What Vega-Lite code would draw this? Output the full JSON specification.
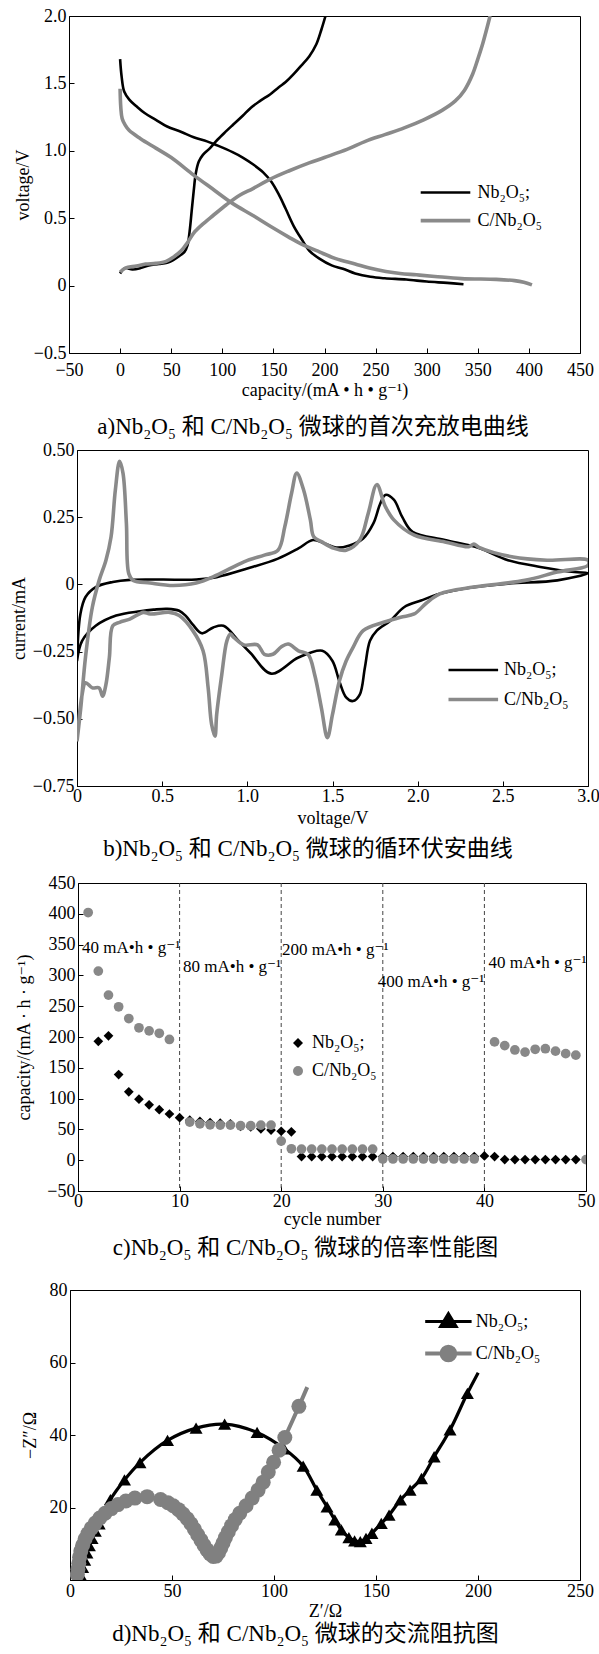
{
"$schema": "https://vega.github.io/schema/vega-lite/v6.json",
"padding": {"left": 0, "top": 6, "right": 0, "bottom": 0},
"spacing": 0,
"resolve": {"scale": {"color": "independent", "shape": "independent", "strokeWidth": "independent"}},
"datasets": {
"dA": [
{"s":"Nb","c":"Nbd","x":0,"y":1.68},{"s":"Nb","c":"Nbd","x":1.5,"y":1.55},{"s":"Nb","c":"Nbd","x":4,"y":1.44},{"s":"Nb","c":"Nbd","x":9,"y":1.38},{"s":"Nb","c":"Nbd","x":16,"y":1.33},{"s":"Nb","c":"Nbd","x":24,"y":1.28},{"s":"Nb","c":"Nbd","x":35,"y":1.23},{"s":"Nb","c":"Nbd","x":46,"y":1.18},{"s":"Nb","c":"Nbd","x":60,"y":1.14},{"s":"Nb","c":"Nbd","x":72,"y":1.1},{"s":"Nb","c":"Nbd","x":85,"y":1.07},{"s":"Nb","c":"Nbd","x":95,"y":1.04},{"s":"Nb","c":"Nbd","x":110,"y":0.99},{"s":"Nb","c":"Nbd","x":120,"y":0.95},{"s":"Nb","c":"Nbd","x":130,"y":0.9},{"s":"Nb","c":"Nbd","x":140,"y":0.84},{"s":"Nb","c":"Nbd","x":148,"y":0.77},{"s":"Nb","c":"Nbd","x":155,"y":0.68},{"s":"Nb","c":"Nbd","x":162,"y":0.57},{"s":"Nb","c":"Nbd","x":170,"y":0.44},{"s":"Nb","c":"Nbd","x":178,"y":0.34},{"s":"Nb","c":"Nbd","x":185,"y":0.26},{"s":"Nb","c":"Nbd","x":195,"y":0.2},{"s":"Nb","c":"Nbd","x":207,"y":0.15},{"s":"Nb","c":"Nbd","x":218,"y":0.125},{"s":"Nb","c":"Nbd","x":230,"y":0.09},{"s":"Nb","c":"Nbd","x":245,"y":0.065},{"s":"Nb","c":"Nbd","x":259,"y":0.054},{"s":"Nb","c":"Nbd","x":280,"y":0.045},{"s":"Nb","c":"Nbd","x":300,"y":0.03},{"s":"Nb","c":"Nbd","x":320,"y":0.02},{"s":"Nb","c":"Nbd","x":336,"y":0.01},
{"s":"Nb","c":"Nbc","x":0,"y":0.09},{"s":"Nb","c":"Nbc","x":3,"y":0.12},{"s":"Nb","c":"Nbc","x":6,"y":0.13},{"s":"Nb","c":"Nbc","x":12,"y":0.12},{"s":"Nb","c":"Nbc","x":20,"y":0.13},{"s":"Nb","c":"Nbc","x":28,"y":0.15},{"s":"Nb","c":"Nbc","x":38,"y":0.16},{"s":"Nb","c":"Nbc","x":46,"y":0.17},{"s":"Nb","c":"Nbc","x":52,"y":0.19},{"s":"Nb","c":"Nbc","x":58,"y":0.22},{"s":"Nb","c":"Nbc","x":63,"y":0.25},{"s":"Nb","c":"Nbc","x":66,"y":0.3},{"s":"Nb","c":"Nbc","x":68,"y":0.4},{"s":"Nb","c":"Nbc","x":70,"y":0.55},{"s":"Nb","c":"Nbc","x":72,"y":0.7},{"s":"Nb","c":"Nbc","x":74,"y":0.83},{"s":"Nb","c":"Nbc","x":77,"y":0.92},{"s":"Nb","c":"Nbc","x":81,"y":0.97},{"s":"Nb","c":"Nbc","x":88,"y":1.02},{"s":"Nb","c":"Nbc","x":95,"y":1.08},{"s":"Nb","c":"Nbc","x":103,"y":1.14},{"s":"Nb","c":"Nbc","x":110,"y":1.19},{"s":"Nb","c":"Nbc","x":120,"y":1.26},{"s":"Nb","c":"Nbc","x":128,"y":1.32},{"s":"Nb","c":"Nbc","x":137,"y":1.37},{"s":"Nb","c":"Nbc","x":147,"y":1.42},{"s":"Nb","c":"Nbc","x":155,"y":1.47},{"s":"Nb","c":"Nbc","x":162,"y":1.51},{"s":"Nb","c":"Nbc","x":170,"y":1.57},{"s":"Nb","c":"Nbc","x":177,"y":1.63},{"s":"Nb","c":"Nbc","x":185,"y":1.7},{"s":"Nb","c":"Nbc","x":192,"y":1.79},{"s":"Nb","c":"Nbc","x":197,"y":1.9},{"s":"Nb","c":"Nbc","x":201,"y":2.0},
{"s":"C","c":"Cd","x":0,"y":1.46},{"s":"C","c":"Cd","x":0.7,"y":1.32},{"s":"C","c":"Cd","x":2,"y":1.24},{"s":"C","c":"Cd","x":5,"y":1.19},{"s":"C","c":"Cd","x":9,"y":1.15},{"s":"C","c":"Cd","x":20,"y":1.09},{"s":"C","c":"Cd","x":35,"y":1.02},{"s":"C","c":"Cd","x":50,"y":0.95},{"s":"C","c":"Cd","x":72,"y":0.82},{"s":"C","c":"Cd","x":90,"y":0.72},{"s":"C","c":"Cd","x":110,"y":0.61},{"s":"C","c":"Cd","x":130,"y":0.52},{"s":"C","c":"Cd","x":147,"y":0.44},{"s":"C","c":"Cd","x":165,"y":0.36},{"s":"C","c":"Cd","x":177,"y":0.31},{"s":"C","c":"Cd","x":195,"y":0.25},{"s":"C","c":"Cd","x":211,"y":0.2},{"s":"C","c":"Cd","x":230,"y":0.16},{"s":"C","c":"Cd","x":244,"y":0.13},{"s":"C","c":"Cd","x":260,"y":0.105},{"s":"C","c":"Cd","x":274,"y":0.09},{"s":"C","c":"Cd","x":290,"y":0.08},{"s":"C","c":"Cd","x":308,"y":0.068},{"s":"C","c":"Cd","x":334,"y":0.052},{"s":"C","c":"Cd","x":368,"y":0.046},{"s":"C","c":"Cd","x":386,"y":0.037},{"s":"C","c":"Cd","x":395,"y":0.025},{"s":"C","c":"Cd","x":403,"y":0.005},
{"s":"C","c":"Cc","x":0,"y":0.1},{"s":"C","c":"Cc","x":5,"y":0.13},{"s":"C","c":"Cc","x":16,"y":0.145},{"s":"C","c":"Cc","x":25,"y":0.16},{"s":"C","c":"Cc","x":35,"y":0.165},{"s":"C","c":"Cc","x":45,"y":0.18},{"s":"C","c":"Cc","x":52,"y":0.21},{"s":"C","c":"Cc","x":60,"y":0.26},{"s":"C","c":"Cc","x":66,"y":0.32},{"s":"C","c":"Cc","x":72,"y":0.39},{"s":"C","c":"Cc","x":80,"y":0.45},{"s":"C","c":"Cc","x":91,"y":0.52},{"s":"C","c":"Cc","x":104,"y":0.6},{"s":"C","c":"Cc","x":117,"y":0.67},{"s":"C","c":"Cc","x":130,"y":0.72},{"s":"C","c":"Cc","x":147,"y":0.79},{"s":"C","c":"Cc","x":165,"y":0.85},{"s":"C","c":"Cc","x":185,"y":0.91},{"s":"C","c":"Cc","x":200,"y":0.95},{"s":"C","c":"Cc","x":222,"y":1.01},{"s":"C","c":"Cc","x":240,"y":1.07},{"s":"C","c":"Cc","x":259,"y":1.12},{"s":"C","c":"Cc","x":278,"y":1.17},{"s":"C","c":"Cc","x":297,"y":1.23},{"s":"C","c":"Cc","x":315,"y":1.3},{"s":"C","c":"Cc","x":328,"y":1.37},{"s":"C","c":"Cc","x":337,"y":1.45},{"s":"C","c":"Cc","x":345,"y":1.57},{"s":"C","c":"Cc","x":350,"y":1.68},{"s":"C","c":"Cc","x":355,"y":1.8},{"s":"C","c":"Cc","x":362,"y":2.0}
],
"dB": [
{"s":"Nb","x":0,"y":-0.285},{"s":"Nb","x":0.02,"y":-0.11},{"s":"Nb","x":0.05,"y":-0.047},{"s":"Nb","x":0.11,"y":-0.01},{"s":"Nb","x":0.21,"y":0.009},{"s":"Nb","x":0.31,"y":0.017},{"s":"Nb","x":0.5,"y":0.018},{"s":"Nb","x":0.7,"y":0.018},{"s":"Nb","x":0.82,"y":0.027},{"s":"Nb","x":1.0,"y":0.059},{"s":"Nb","x":1.18,"y":0.096},{"s":"Nb","x":1.3,"y":0.134},{"s":"Nb","x":1.385,"y":0.165},{"s":"Nb","x":1.455,"y":0.152},{"s":"Nb","x":1.52,"y":0.137},{"s":"Nb","x":1.6,"y":0.145},{"s":"Nb","x":1.68,"y":0.171},{"s":"Nb","x":1.74,"y":0.227},{"s":"Nb","x":1.78,"y":0.3},{"s":"Nb","x":1.81,"y":0.333},{"s":"Nb","x":1.86,"y":0.315},{"s":"Nb","x":1.91,"y":0.25},{"s":"Nb","x":1.97,"y":0.196},{"s":"Nb","x":2.16,"y":0.165},{"s":"Nb","x":2.36,"y":0.135},{"s":"Nb","x":2.53,"y":0.09},{"s":"Nb","x":2.72,"y":0.065},{"s":"Nb","x":2.92,"y":0.046},{"s":"Nb","x":3.0,"y":0.042},
{"s":"Nb","x":2.82,"y":0.015},{"s":"Nb","x":2.53,"y":0.003},{"s":"Nb","x":2.27,"y":-0.016},{"s":"Nb","x":2.13,"y":-0.035},{"s":"Nb","x":2.02,"y":-0.06},{"s":"Nb","x":1.92,"y":-0.085},{"s":"Nb","x":1.84,"y":-0.135},{"s":"Nb","x":1.76,"y":-0.172},{"s":"Nb","x":1.72,"y":-0.21},{"s":"Nb","x":1.69,"y":-0.31},{"s":"Nb","x":1.66,"y":-0.41},{"s":"Nb","x":1.62,"y":-0.434},{"s":"Nb","x":1.58,"y":-0.42},{"s":"Nb","x":1.54,"y":-0.36},{"s":"Nb","x":1.5,"y":-0.285},{"s":"Nb","x":1.44,"y":-0.247},{"s":"Nb","x":1.3,"y":-0.272},{"s":"Nb","x":1.14,"y":-0.332},{"s":"Nb","x":1.02,"y":-0.256},{"s":"Nb","x":0.95,"y":-0.211},{"s":"Nb","x":0.86,"y":-0.154},{"s":"Nb","x":0.8,"y":-0.16},{"s":"Nb","x":0.733,"y":-0.182},{"s":"Nb","x":0.68,"y":-0.15},{"s":"Nb","x":0.64,"y":-0.118},{"s":"Nb","x":0.6,"y":-0.098},{"s":"Nb","x":0.53,"y":-0.091},{"s":"Nb","x":0.45,"y":-0.094},{"s":"Nb","x":0.37,"y":-0.1},{"s":"Nb","x":0.23,"y":-0.116},{"s":"Nb","x":0.11,"y":-0.154},{"s":"Nb","x":0.03,"y":-0.21},{"s":"Nb","x":0.0,"y":-0.285},
{"s":"C","x":0,"y":-0.584},{"s":"C","x":0.022,"y":-0.46},{"s":"C","x":0.05,"y":-0.27},{"s":"C","x":0.09,"y":-0.085},{"s":"C","x":0.13,"y":0.015},{"s":"C","x":0.17,"y":0.09},{"s":"C","x":0.2,"y":0.177},{"s":"C","x":0.225,"y":0.35},{"s":"C","x":0.25,"y":0.458},{"s":"C","x":0.27,"y":0.414},{"s":"C","x":0.29,"y":0.227},{"s":"C","x":0.304,"y":0.04},{"s":"C","x":0.33,"y":0.015},{"s":"C","x":0.43,"y":0.005},{"s":"C","x":0.565,"y":-0.004},{"s":"C","x":0.7,"y":0.005},{"s":"C","x":0.82,"y":0.034},{"s":"C","x":0.98,"y":0.084},{"s":"C","x":1.1,"y":0.109},{"s":"C","x":1.18,"y":0.127},{"s":"C","x":1.22,"y":0.215},{"s":"C","x":1.26,"y":0.34},{"s":"C","x":1.29,"y":0.414},{"s":"C","x":1.33,"y":0.352},{"s":"C","x":1.37,"y":0.24},{"s":"C","x":1.39,"y":0.177},{"s":"C","x":1.435,"y":0.159},{"s":"C","x":1.51,"y":0.134},{"s":"C","x":1.58,"y":0.127},{"s":"C","x":1.66,"y":0.165},{"s":"C","x":1.71,"y":0.265},{"s":"C","x":1.76,"y":0.371},{"s":"C","x":1.81,"y":0.29},{"s":"C","x":1.86,"y":0.24},{"s":"C","x":1.98,"y":0.183},{"s":"C","x":2.16,"y":0.158},{"s":"C","x":2.3,"y":0.14},{"s":"C","x":2.33,"y":0.15},{"s":"C","x":2.36,"y":0.138},{"s":"C","x":2.56,"y":0.102},{"s":"C","x":2.76,"y":0.09},{"s":"C","x":3.0,"y":0.09},
{"s":"C","x":3.0,"y":0.071},{"s":"C","x":2.82,"y":0.046},{"s":"C","x":2.63,"y":0.015},{"s":"C","x":2.33,"y":-0.01},{"s":"C","x":2.13,"y":-0.035},{"s":"C","x":2.05,"y":-0.07},{"s":"C","x":1.98,"y":-0.11},{"s":"C","x":1.9,"y":-0.122},{"s":"C","x":1.8,"y":-0.141},{"s":"C","x":1.68,"y":-0.172},{"s":"C","x":1.62,"y":-0.235},{"s":"C","x":1.58,"y":-0.285},{"s":"C","x":1.54,"y":-0.36},{"s":"C","x":1.5,"y":-0.484},{"s":"C","x":1.47,"y":-0.57},{"s":"C","x":1.435,"y":-0.46},{"s":"C","x":1.395,"y":-0.335},{"s":"C","x":1.356,"y":-0.26},{"s":"C","x":1.3,"y":-0.247},{"s":"C","x":1.24,"y":-0.222},{"s":"C","x":1.2,"y":-0.232},{"s":"C","x":1.15,"y":-0.26},{"s":"C","x":1.1,"y":-0.26},{"s":"C","x":1.06,"y":-0.225},{"s":"C","x":0.98,"y":-0.225},{"s":"C","x":0.92,"y":-0.197},{"s":"C","x":0.9,"y":-0.185},{"s":"C","x":0.88,"y":-0.21},{"s":"C","x":0.85,"y":-0.335},{"s":"C","x":0.82,"y":-0.484},{"s":"C","x":0.81,"y":-0.565},{"s":"C","x":0.79,"y":-0.52},{"s":"C","x":0.77,"y":-0.385},{"s":"C","x":0.74,"y":-0.247},{"s":"C","x":0.68,"y":-0.172},{"s":"C","x":0.6,"y":-0.116},{"s":"C","x":0.545,"y":-0.104},{"s":"C","x":0.43,"y":-0.11},{"s":"C","x":0.39,"y":-0.104},{"s":"C","x":0.31,"y":-0.129},{"s":"C","x":0.25,"y":-0.141},{"s":"C","x":0.21,"y":-0.154},{"s":"C","x":0.19,"y":-0.272},{"s":"C","x":0.17,"y":-0.372},{"s":"C","x":0.15,"y":-0.416},{"s":"C","x":0.13,"y":-0.385},{"s":"C","x":0.09,"y":-0.385},{"s":"C","x":0.05,"y":-0.366},{"s":"C","x":0.03,"y":-0.41},{"s":"C","x":0,"y":-0.584}
],
"dC": [
{"s":"Nb","x":2,"y":193},{"s":"Nb","x":3,"y":202},{"s":"Nb","x":4,"y":139},{"s":"Nb","x":5,"y":111},{"s":"Nb","x":6,"y":99},{"s":"Nb","x":7,"y":90},{"s":"Nb","x":8,"y":82},{"s":"Nb","x":9,"y":75},{"s":"Nb","x":10,"y":69},{"s":"Nb","x":11,"y":65},{"s":"Nb","x":12,"y":63},{"s":"Nb","x":13,"y":61},{"s":"Nb","x":14,"y":60},{"s":"Nb","x":15,"y":59},{"s":"Nb","x":16,"y":55},{"s":"Nb","x":17,"y":54},{"s":"Nb","x":18,"y":51},{"s":"Nb","x":19,"y":49},{"s":"Nb","x":20,"y":47},{"s":"Nb","x":21,"y":46},{"s":"Nb","x":22,"y":6},{"s":"Nb","x":23,"y":6},{"s":"Nb","x":24,"y":6},{"s":"Nb","x":25,"y":6},{"s":"Nb","x":26,"y":6},{"s":"Nb","x":27,"y":6},{"s":"Nb","x":28,"y":6},{"s":"Nb","x":29,"y":6},{"s":"Nb","x":30,"y":6},{"s":"Nb","x":31,"y":6},{"s":"Nb","x":32,"y":6},{"s":"Nb","x":33,"y":6},{"s":"Nb","x":34,"y":6},{"s":"Nb","x":35,"y":6},{"s":"Nb","x":36,"y":6},{"s":"Nb","x":37,"y":6},{"s":"Nb","x":38,"y":6},{"s":"Nb","x":39,"y":6},{"s":"Nb","x":40,"y":7},{"s":"Nb","x":41,"y":6},{"s":"Nb","x":42,"y":1},{"s":"Nb","x":43,"y":1},{"s":"Nb","x":44,"y":1},{"s":"Nb","x":45,"y":1},{"s":"Nb","x":46,"y":1},{"s":"Nb","x":47,"y":1},{"s":"Nb","x":48,"y":1},{"s":"Nb","x":49,"y":1},
{"s":"C","x":1,"y":402},{"s":"C","x":2,"y":307},{"s":"C","x":3,"y":268},{"s":"C","x":4,"y":249},{"s":"C","x":5,"y":230},{"s":"C","x":6,"y":215},{"s":"C","x":7,"y":210},{"s":"C","x":8,"y":206},{"s":"C","x":9,"y":196},{"s":"C","x":11,"y":62},{"s":"C","x":12,"y":59},{"s":"C","x":13,"y":57.5},{"s":"C","x":14,"y":57},{"s":"C","x":15,"y":57},{"s":"C","x":16,"y":56},{"s":"C","x":17,"y":56},{"s":"C","x":18,"y":57},{"s":"C","x":19,"y":57},{"s":"C","x":20,"y":31},{"s":"C","x":21,"y":18.5},{"s":"C","x":22,"y":18},{"s":"C","x":23,"y":18},{"s":"C","x":24,"y":18},{"s":"C","x":25,"y":18},{"s":"C","x":26,"y":18},{"s":"C","x":27,"y":18},{"s":"C","x":28,"y":18},{"s":"C","x":29,"y":18},{"s":"C","x":30,"y":2},{"s":"C","x":31,"y":2},{"s":"C","x":32,"y":2},{"s":"C","x":33,"y":2},{"s":"C","x":34,"y":2},{"s":"C","x":35,"y":2},{"s":"C","x":36,"y":2},{"s":"C","x":37,"y":2},{"s":"C","x":38,"y":2},{"s":"C","x":39,"y":2},{"s":"C","x":41,"y":192},{"s":"C","x":42,"y":186},{"s":"C","x":43,"y":179},{"s":"C","x":44,"y":175.5},{"s":"C","x":45,"y":180},{"s":"C","x":46,"y":181},{"s":"C","x":47,"y":177},{"s":"C","x":48,"y":173},{"s":"C","x":49,"y":170.5},{"s":"C","x":50,"y":1}
],
"dCr": [{"x":10},{"x":20},{"x":30},{"x":40}],
"dCt": [
{"x":0.4,"y":344,"t":"40 mA•h • g⁻¹"},{"x":10.33,"y":314,"t":"80 mA•h • g⁻¹"},{"x":20.07,"y":341,"t":"200 mA•h • g⁻¹"},{"x":29.5,"y":288.5,"t":"400 mA•h • g⁻¹"},{"x":40.4,"y":320,"t":"40 mA•h • g⁻¹"}
],
"dDl": [
{"s":"Nb","x":4.3,"y":0.8},{"s":"Nb","x":5,"y":1.5},{"s":"Nb","x":6.2,"y":3.5},{"s":"Nb","x":7.2,"y":5.5},{"s":"Nb","x":8.3,"y":7.5},{"s":"Nb","x":9.5,"y":9.5},{"s":"Nb","x":10.8,"y":11.5},{"s":"Nb","x":12.4,"y":13.5},{"s":"Nb","x":14.3,"y":15.5},{"s":"Nb","x":16.5,"y":18.5},{"s":"Nb","x":19.8,"y":22.2},{"s":"Nb","x":26.7,"y":27.6},{"s":"Nb","x":34.3,"y":32.4},{"s":"Nb","x":47.8,"y":38.5},{"s":"Nb","x":61.8,"y":41.9},{"s":"Nb","x":75.8,"y":43},{"s":"Nb","x":91.7,"y":40.7},{"s":"Nb","x":105,"y":36.2},{"s":"Nb","x":114.3,"y":31.4},{"s":"Nb","x":121,"y":24.8},{"s":"Nb","x":126,"y":20.2},{"s":"Nb","x":129.8,"y":16.6},{"s":"Nb","x":133,"y":13.8},{"s":"Nb","x":136.7,"y":11.7},{"s":"Nb","x":139.5,"y":10.8},{"s":"Nb","x":142.3,"y":10.6},{"s":"Nb","x":145.1,"y":11.5},{"s":"Nb","x":148,"y":12.9},{"s":"Nb","x":152.6,"y":15.6},{"s":"Nb","x":156.4,"y":17.9},{"s":"Nb","x":162,"y":22.1},{"s":"Nb","x":166.7,"y":24.8},{"s":"Nb","x":172.3,"y":28},{"s":"Nb","x":178.5,"y":34},{"s":"Nb","x":186.3,"y":41.4},{"s":"Nb","x":194.8,"y":51.5},{"s":"Nb","x":200.1,"y":57.2},
{"s":"C","x":3.5,"y":0.5},{"s":"C","x":3.6,"y":1.5},{"s":"C","x":3.9,"y":3},{"s":"C","x":4.3,"y":4.6},{"s":"C","x":4.7,"y":6.3},{"s":"C","x":5.3,"y":8},{"s":"C","x":6.2,"y":9.6},{"s":"C","x":7.4,"y":11.3},{"s":"C","x":8.8,"y":12.8},{"s":"C","x":10.5,"y":14.3},{"s":"C","x":12.4,"y":15.7},{"s":"C","x":14.6,"y":17.1},{"s":"C","x":17.2,"y":18.4},{"s":"C","x":20.3,"y":19.7},{"s":"C","x":23.5,"y":20.8},{"s":"C","x":27.4,"y":21.8},{"s":"C","x":31.8,"y":22.6},{"s":"C","x":37.8,"y":23},{"s":"C","x":44.4,"y":22.2},{"s":"C","x":48,"y":21.3},{"s":"C","x":50.6,"y":20.5},{"s":"C","x":53.2,"y":19.4},{"s":"C","x":55.4,"y":18.2},{"s":"C","x":57.5,"y":16.9},{"s":"C","x":59.3,"y":15.5},{"s":"C","x":61,"y":14},{"s":"C","x":62.6,"y":12.5},{"s":"C","x":64.2,"y":11},{"s":"C","x":65.7,"y":9.6},{"s":"C","x":67.2,"y":8.3},{"s":"C","x":68.7,"y":7.2},{"s":"C","x":70.2,"y":6.5},{"s":"C","x":71.6,"y":6.6},{"s":"C","x":72.8,"y":7.5},{"s":"C","x":73.9,"y":8.8},{"s":"C","x":75,"y":10.2},{"s":"C","x":76.2,"y":11.7},{"s":"C","x":77.6,"y":13.3},{"s":"C","x":79.2,"y":15},{"s":"C","x":81,"y":16.7},{"s":"C","x":83.2,"y":18.4},{"s":"C","x":86.3,"y":20.5},{"s":"C","x":89.3,"y":22.6},{"s":"C","x":92.2,"y":24.8},{"s":"C","x":94.7,"y":27},{"s":"C","x":97.2,"y":29.8},{"s":"C","x":99.8,"y":32.5},{"s":"C","x":102.5,"y":35.8},{"s":"C","x":105.3,"y":39.3},{"s":"C","x":112.2,"y":47.9},{"s":"C","x":116.3,"y":53.2}
],
"dDp": [
{"s":"Nb","x":5,"y":1.5},{"s":"Nb","x":6.2,"y":3.5},{"s":"Nb","x":7.2,"y":5.5},{"s":"Nb","x":8.3,"y":7.5},{"s":"Nb","x":9.5,"y":9.5},{"s":"Nb","x":10.8,"y":11.5},{"s":"Nb","x":12.4,"y":13.5},{"s":"Nb","x":14.3,"y":15.5},{"s":"Nb","x":16.5,"y":18.5},{"s":"Nb","x":19.8,"y":22.2},{"s":"Nb","x":26.7,"y":27.6},{"s":"Nb","x":34.3,"y":32.4},{"s":"Nb","x":47.8,"y":38.5},{"s":"Nb","x":61.8,"y":41.9},{"s":"Nb","x":75.8,"y":43},{"s":"Nb","x":91.7,"y":40.7},{"s":"Nb","x":105,"y":36.2},{"s":"Nb","x":114.3,"y":31.4},{"s":"Nb","x":121,"y":24.8},{"s":"Nb","x":126,"y":20.2},{"s":"Nb","x":129.8,"y":16.6},{"s":"Nb","x":133,"y":13.8},{"s":"Nb","x":136.7,"y":11.7},{"s":"Nb","x":139.5,"y":10.8},{"s":"Nb","x":142.3,"y":10.6},{"s":"Nb","x":145.1,"y":11.5},{"s":"Nb","x":148,"y":12.9},{"s":"Nb","x":152.6,"y":15.6},{"s":"Nb","x":156.4,"y":17.9},{"s":"Nb","x":162,"y":22.1},{"s":"Nb","x":166.7,"y":24.8},{"s":"Nb","x":172.3,"y":28},{"s":"Nb","x":178.5,"y":34},{"s":"Nb","x":186.3,"y":41.4},{"s":"Nb","x":194.8,"y":51.5},
{"s":"C","x":3.6,"y":1.5},{"s":"C","x":3.9,"y":3},{"s":"C","x":4.3,"y":4.6},{"s":"C","x":4.7,"y":6.3},{"s":"C","x":5.3,"y":8},{"s":"C","x":6.2,"y":9.6},{"s":"C","x":7.4,"y":11.3},{"s":"C","x":8.8,"y":12.8},{"s":"C","x":10.5,"y":14.3},{"s":"C","x":12.4,"y":15.7},{"s":"C","x":14.6,"y":17.1},{"s":"C","x":17.2,"y":18.4},{"s":"C","x":20.3,"y":19.7},{"s":"C","x":23.5,"y":20.8},{"s":"C","x":27.4,"y":21.8},{"s":"C","x":31.8,"y":22.6},{"s":"C","x":37.8,"y":23},{"s":"C","x":44.4,"y":22.2},{"s":"C","x":48,"y":21.3},{"s":"C","x":50.6,"y":20.5},{"s":"C","x":53.2,"y":19.4},{"s":"C","x":55.4,"y":18.2},{"s":"C","x":57.5,"y":16.9},{"s":"C","x":59.3,"y":15.5},{"s":"C","x":61,"y":14},{"s":"C","x":62.6,"y":12.5},{"s":"C","x":64.2,"y":11},{"s":"C","x":65.7,"y":9.6},{"s":"C","x":67.2,"y":8.3},{"s":"C","x":68.7,"y":7.2},{"s":"C","x":70.2,"y":6.5},{"s":"C","x":71.6,"y":6.6},{"s":"C","x":72.8,"y":7.5},{"s":"C","x":73.9,"y":8.8},{"s":"C","x":75,"y":10.2},{"s":"C","x":76.2,"y":11.7},{"s":"C","x":77.6,"y":13.3},{"s":"C","x":79.2,"y":15},{"s":"C","x":81,"y":16.7},{"s":"C","x":83.2,"y":18.4},{"s":"C","x":86.3,"y":20.5},{"s":"C","x":89.3,"y":22.6},{"s":"C","x":92.2,"y":24.8},{"s":"C","x":94.7,"y":27},{"s":"C","x":97.2,"y":29.8},{"s":"C","x":99.8,"y":32.5},{"s":"C","x":102.5,"y":35.8},{"s":"C","x":105.3,"y":39.3},{"s":"C","x":112.2,"y":47.9}
]
},
"vconcat": [
{
"spacing": 0,
"resolve": {"scale": {"color": "independent", "shape": "independent", "strokeWidth": "independent"}},
"hconcat": [
{"width": 12, "height": 1, "data": {"values": []}, "mark": "point", "view": {"stroke": "transparent"}},
{
"width": 511, "height": 337,
"data": {"name": "dA"},
"mark": {"type": "line", "interpolate": "catmull-rom", "clip": true},
"encoding": {
"x": {"field": "x", "type": "quantitative", "scale": {"domain": [-50, 450], "nice": false, "zero": false}, "axis": {"values": [-50,0,50,100,150,200,250,300,350,400,450], "format": "d", "title": "capacity/(mA • h • g⁻¹)", "labelPadding": 13, "titlePadding": 2}},
"y": {"field": "y", "type": "quantitative", "scale": {"domain": [-0.5, 2], "nice": false, "zero": false}, "axis": {"values": [-0.5,0,0.5,1,1.5,2], "labelExpr": "datum.value == 0 ? '0' : format(datum.value, '.1f')", "title": "voltage/V", "titlePadding": 0.5}},
"color": {"field": "s", "type": "nominal", "scale": {"domain": ["Nb","C"], "range": ["#000000","#8a8a8a"]}, "legend": {"orient": "none", "legendX": 366.5, "legendY": 167, "title": null, "symbolType": "M-3.1,0H3.1", "symbolSize": 256, "symbolStrokeWidth": 3, "labelOffset": 22, "rowPadding": 8.6, "labelExpr": "datum.value == 'Nb' ? 'Nb₂O₅;' : 'C/Nb₂O₅'", "encode": {"symbols": {"update": {"strokeWidth": {"signal": "datum.value == 'Nb' ? 3 : 4"}}}}}},
"strokeWidth": {"field": "s", "type": "ordinal", "scale": {"domain": ["Nb","C"], "range": [2.6, 3.6]}, "legend": null},
"detail": {"field": "c", "type": "nominal"}
},
"title": {"text": "a)Nb₂O₅ 和 C/Nb₂O₅ 微球的首次充放电曲线", "dx": -11.5, "offset": 17}
}
]
},
{
"spacing": 0,
"resolve": {"scale": {"color": "independent", "shape": "independent", "strokeWidth": "independent"}},
"hconcat": [
{"width": 8, "height": 1, "data": {"values": []}, "mark": "point", "view": {"stroke": "transparent"}},
{
"width": 511, "height": 336,
"data": {"name": "dB"},
"mark": {"type": "line", "interpolate": "catmull-rom", "clip": true},
"encoding": {
"x": {"field": "x", "type": "quantitative", "scale": {"domain": [0, 3], "nice": false, "zero": false}, "axis": {"values": [0,0.5,1,1.5,2,2.5,3], "labelExpr": "datum.value == 0 ? '0' : format(datum.value, '.1f')", "title": "voltage/V", "labelPadding": 6, "titlePadding": 4}},
"y": {"field": "y", "type": "quantitative", "scale": {"domain": [-0.75, 0.5], "nice": false, "zero": false}, "axis": {"values": [-0.75,-0.5,-0.25,0,0.25,0.5], "labelExpr": "datum.value == 0 ? '0' : format(datum.value, '.2f')", "title": "current/mA", "titlePadding": 3.4}},
"color": {"field": "s", "type": "nominal", "scale": {"domain": ["Nb","C"], "range": ["#000000","#8a8a8a"]}, "legend": {"orient": "none", "legendX": 386.3, "legendY": 210.5, "title": null, "symbolType": "M-3.1,0H3.1", "symbolSize": 256, "symbolStrokeWidth": 3, "labelOffset": 20.7, "rowPadding": 10, "labelExpr": "datum.value == 'Nb' ? 'Nb₂O₅;' : 'C/Nb₂O₅'", "encode": {"symbols": {"update": {"strokeWidth": {"signal": "datum.value == 'Nb' ? 3 : 4"}}}}}},
"strokeWidth": {"field": "s", "type": "ordinal", "scale": {"domain": ["Nb","C"], "range": [2.6, 3.6]}, "legend": null},
"order": {"value": null}
},
"title": {"text": "b)Nb₂O₅ 和 C/Nb₂O₅ 微球的循环伏安曲线", "dx": -24.5, "offset": 10.5, "subtitle": " ", "subtitleFontSize": 10, "subtitlePadding": 2}
}
]
},
{
"spacing": 0,
"resolve": {"scale": {"color": "independent", "shape": "independent", "strokeWidth": "independent"}},
"hconcat": [
{"width": 12, "height": 1, "data": {"values": []}, "mark": "point", "view": {"stroke": "transparent"}},
{
"width": 508, "height": 308,
"encoding": {
"x": {"field": "x", "type": "quantitative", "scale": {"domain": [0, 50], "nice": false, "zero": false}, "axis": {"values": [0,10,20,30,40,50], "format": "d", "title": "cycle number", "labelPadding": 6.5, "titlePadding": 0}},
"y": {"field": "y", "type": "quantitative", "scale": {"domain": [-50, 450], "nice": false, "zero": false}, "axis": {"values": [-50,0,50,100,150,200,250,300,350,400,450], "format": "d", "title": "capacity/(mA · h · g⁻¹)", "titlePadding": 13.8}}
},
"layer": [
{"data": {"name": "dCr"}, "mark": {"type": "rule", "color": "#444444", "strokeWidth": 1, "strokeDash": [4, 3]}, "encoding": {"y": null}},
{"data": {"name": "dC"}, "mark": {"type": "point", "filled": true, "opacity": 1, "size": 95, "clip": true, "strokeWidth": 0},
"encoding": {
"color": {"field": "s", "type": "nominal", "scale": {"domain": ["Nb","C"], "range": ["#000000","#888888"]}, "legend": {"orient": "none", "legendX": 211, "legendY": 151, "title": null, "symbolSize": 100, "labelOffset": 5, "rowPadding": 10, "labelExpr": "datum.value == 'Nb' ? 'Nb₂O₅;' : 'C/Nb₂O₅'"}},
"shape": {"field": "s", "type": "nominal", "scale": {"domain": ["Nb","C"], "range": ["diamond","circle"]}, "legend": {"orient": "none", "legendX": 211, "legendY": 151, "title": null, "symbolSize": 100, "labelOffset": 5, "rowPadding": 10, "labelExpr": "datum.value == 'Nb' ? 'Nb₂O₅;' : 'C/Nb₂O₅'"}}
}},
{"data": {"name": "dCt"}, "mark": {"type": "text", "align": "left", "baseline": "middle", "fontSize": 17, "font": "'Liberation Serif', 'DejaVu Serif', 'Noto Sans CJK SC'", "color": "#000000"}, "encoding": {"text": {"field": "t"}}}
],
"title": {"text": "c)Nb₂O₅ 和 C/Nb₂O₅ 微球的倍率性能图", "dx": -26.5, "offset": 8.5, "subtitle": " ", "subtitleFontSize": 10, "subtitlePadding": 9.5}
}
]
},
{
"spacing": 0,
"resolve": {"scale": {"color": "independent", "shape": "independent", "strokeWidth": "independent"}},
"hconcat": [
{"width": 18, "height": 1, "data": {"values": []}, "mark": "point", "view": {"stroke": "transparent"}},
{
"width": 510, "height": 290,
"encoding": {
"x": {"field": "x", "type": "quantitative", "scale": {"domain": [0, 250], "nice": false, "zero": false}, "axis": {"values": [0,50,100,150,200,250], "format": "d", "title": "Z′/Ω", "labelPadding": 7, "titlePadding": 2}},
"y": {"field": "y", "type": "quantitative", "scale": {"domain": [0, 80], "nice": false, "zero": false}, "axis": {"values": [20,40,60,80], "format": "d", "title": "−Z″/Ω", "titlePadding": 10}}
},
"layer": [
{"data": {"name": "dDl"}, "mark": {"type": "line", "interpolate": "catmull-rom", "clip": true},
"encoding": {
"color": {"field": "s", "type": "nominal", "scale": {"domain": ["Nb","C"], "range": ["#000000","#808080"]}, "legend": {"orient": "none", "legendX": 368.4, "legendY": 21.5, "title": null, "symbolType": "M-2.9,0H2.9", "symbolSize": 256, "symbolStrokeWidth": 3, "labelOffset": 17.3, "rowPadding": 5, "labelExpr": "datum.value == 'Nb' ? 'Nb₂O₅;' : 'C/Nb₂O₅'",
"encode": {"symbols": {"update": {
"shape": {"signal": "datum.value == 'C' ? 'M-2.9,0H2.9M0.85,0A0.85,0.85,0,1,1,-0.85,0A0.85,0.85,0,1,1,0.85,0Z' : 'M-2.9,0H2.9M0,-0.95L0.95,0.62L-0.95,0.62Z'"},
"fill": {"signal": "datum.value == 'C' ? '#808080' : '#000000'"},
"stroke": {"signal": "datum.value == 'C' ? '#808080' : '#000000'"},
"strokeWidth": {"signal": "datum.value == 'C' ? 4 : 3"},
"opacity": {"value": 1}
}}}}},
"strokeWidth": {"field": "s", "type": "ordinal", "scale": {"domain": ["Nb","C"], "range": [3.2, 4]}, "legend": null},
"order": {"value": null}
}},
{"data": {"name": "dDp"}, "transform": [{"filter": "datum.s == 'Nb'"}], "mark": {"type": "point", "shape": "triangle-up", "filled": true, "opacity": 1, "size": 170, "color": "#000000", "clip": true}},
{"data": {"name": "dDp"}, "transform": [{"filter": "datum.s == 'C'"}], "mark": {"type": "point", "shape": "circle", "filled": true, "opacity": 1, "size": 225, "color": "#808080", "clip": true}}
],
"title": {"text": "d)Nb₂O₅ 和 C/Nb₂O₅ 微球的交流阻抗图", "dx": -19.5, "offset": 3}
}
]
}
],
"config": {
"font": "'Liberation Serif', 'DejaVu Serif', 'Noto Sans CJK SC'",
"view": {"stroke": "#000000", "strokeWidth": 1},
"axis": {"grid": false, "domainColor": "#000000", "domainWidth": 1, "tickColor": "#000000", "tickWidth": 1, "tickSize": -5, "labelPadding": 8, "labelFont": "'Liberation Serif', 'DejaVu Serif', 'Noto Sans CJK SC'", "labelFontSize": 18, "labelColor": "#000000", "titleFont": "'Liberation Serif', 'DejaVu Serif', 'Noto Sans CJK SC'", "titleFontSize": 18, "titleFontWeight": "normal", "titleColor": "#000000", "labelFlush": false, "labelOverlap": false},
"legend": {"labelFont": "'Liberation Serif', 'DejaVu Serif', 'Noto Sans CJK SC'", "labelFontSize": 18, "labelColor": "#000000", "padding": 0},
"title": {"font": "'Liberation Serif', 'DejaVu Serif', 'Noto Sans CJK SC'", "fontSize": 23, "fontWeight": "normal", "color": "#000000", "orient": "bottom", "anchor": "middle", "frame": "group"}
}
}
